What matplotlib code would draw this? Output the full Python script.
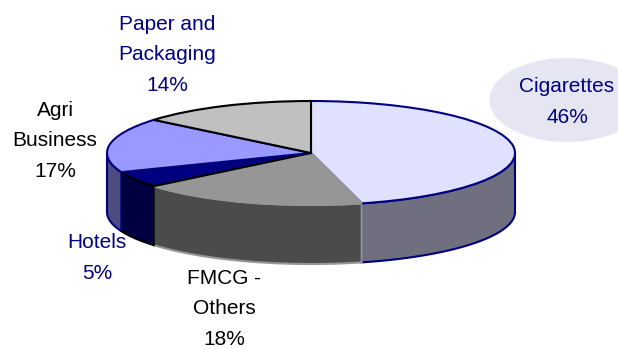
import matplotlib
matplotlib.use("Agg")
import matplotlib.pyplot as plt
from matplotlib.patches import Ellipse
import numpy as np

plt.rcParams['font.family'] = ['Liberation Sans', 'DejaVu Sans']

labels = ["Cigarettes\n46%", "FMCG -\nOthers\n18%", "Hotels\n5%", "Agri\nBusiness\n17%", "Paper and\nPackaging\n14%"]
values = [46, 18, 5, 17, 14]
top_colors = ["#E0E0FF", "#969696", "#000080", "#9999FF", "#C0C0C0"]
side_colors = ["#6F6F80", "#4B4B4B", "#000040", "#4C4C80", "#606060"]
edge_colors = ["#000080", "#969696", "#000000", "#000080", "#000000"]
label_colors = ["#000080", "#000000", "#000080", "#000000", "#000080"]

W, H = 618, 349
cx, cy = 311, 153     # pie centre in pixels
rx, ry = 204, 52
depth = 59

fig = plt.figure(figsize=(W / 100, H / 100), dpi=100)
ax = fig.add_axes([0, 0, 1, 1])

# top face, unit circle squashed by the axis limits
wedges, _ = ax.pie(values, colors=top_colors, startangle=90, counterclock=False,
                   wedgeprops=dict(linewidth=1.5))
for w, ec in zip(wedges, edge_colors):
    w.set_edgecolor(ec)
ax.set_aspect('auto')
ax.set_xlim(-cx / rx, (W - cx) / rx)
ax.set_ylim((cy - H) / ry, cy / ry)
ax.set_axis_off()

# side walls, only the part of each slice facing the viewer
d = depth / ry
start = 0.0
for v, col, ec in zip(values, side_colors, edge_colors):
    end = start + v / sum(values) * 360
    a0, a1 = max(start, 90), min(end, 270)
    if a1 > a0:
        t = np.radians(np.linspace(a0, a1, 80))
        x, y = np.sin(t), np.cos(t)
        ax.fill(np.r_[x, x[::-1]], np.r_[y, y[::-1] - d], facecolor=col,
                edgecolor=ec, linewidth=1.5, zorder=0.5)
    start = end

ax.add_patch(Ellipse(((567 - cx) / rx, (cy - 100) / ry), 155 / rx, 84 / ry,
                     facecolor="#E6E6F2", edgecolor="none", zorder=0.2))

# label anchors in pixels
label_x = [567, 224, 97, 55, 167]
label_y = [102, 309, 258, 141, 55]
for s, c, lx, ly in zip(labels, label_colors, label_x, label_y):
    ax.text((lx - cx) / rx, (cy - ly) / ry, s, color=c, fontsize=15, ha='center',
            va='center', linespacing=1.78, zorder=5)

fig.savefig("out.png", dpi=100)
